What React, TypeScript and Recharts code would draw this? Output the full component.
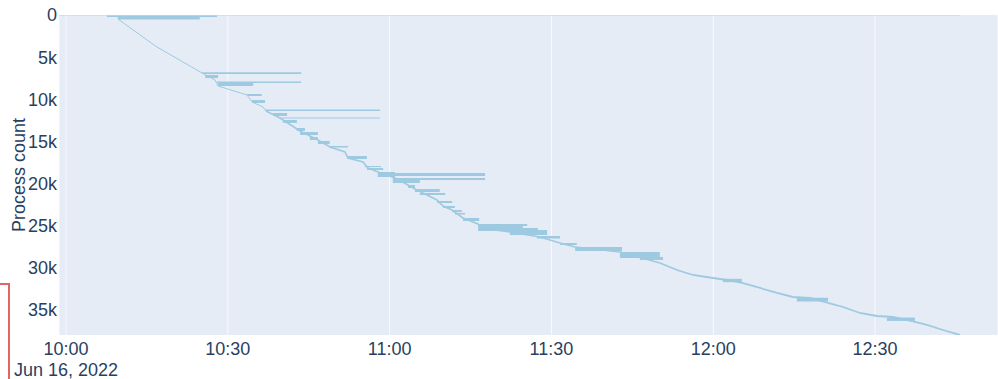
import React from 'react';
import { ComposedChart, Line, XAxis, YAxis, CartesianGrid, ReferenceArea } from 'recharts';

// Time axis: minutes after 10:00 on Jun 16, 2022
const xTicks = [0, 30, 60, 90, 120, 150];
const yTicks = [0, 5000, 10000, 15000, 20000, 25000, 30000, 35000];
const dateLabel = 'Jun 16, 2022';
const yTitle = 'Process count';

// Process bars (clusters of processes): start / end time (min after 10:00), row range (process count)
const barStartMin = [
  -1.3, 7.6, 9.6, 25.2, 25.8, 28.0, 28.2, 33.6, 34.5, 36.9, 39.7, 38.4, 40.2, 42.8, 43.4, 45.2,
  46.7, 48.9, 52.1, 55.4, 55.8, 57.8, 60.6, 60.6, 60.6, 63.4, 64.7, 65.6, 68.8, 69.9, 71.6, 72.1,
  73.6, 76.4, 76.4, 78.6, 82.3, 87.3, 91.6, 94.4, 102.7, 106.4, 121.8, 135.5, 152.2,
];
const barEndMin = [
  165.8, 28.0, 24.8, 43.6, 28.2, 43.6, 34.7, 36.3, 36.9, 58.2, 58.2, 41.0, 42.8, 44.3, 46.7, 46.7,
  48.9, 52.3, 55.8, 58.4, 58.8, 61.0, 77.7, 77.7, 65.6, 64.7, 69.3, 70.3, 71.6, 72.1, 73.4, 74.0,
  76.6, 84.7, 85.5, 87.5, 89.2, 91.6, 94.7, 103.1, 110.1, 110.7, 125.3, 141.3, 157.4,
];
const barFromCount = [
  0, 60, 120, 6800, 7120, 7890, 8010, 9370, 10090, 11210, 12160, 11630, 12460, 13410, 13880, 14480,
  14950, 15540, 16730, 17920, 18150, 18630, 18750, 19340, 19460, 20170, 20650, 21120, 22070, 22660, 23140, 23490,
  24090, 24920, 24800, 25270, 25510, 26220, 27050, 27530, 28120, 28710, 31300, 33560, 35900,
];
const barToCount = [
  80, 240, 530, 7000, 7480, 8070, 8420, 9610, 10440, 11390, 12280, 11980, 12810, 13760, 14240, 14830,
  15310, 15720, 17090, 18040, 18390, 19220, 19100, 19580, 19930, 20530, 21000, 21360, 22310, 22900, 23370, 23670,
  24440, 25630, 25040, 25570, 26100, 26520, 27290, 28000, 28830, 29070, 31700, 34000, 36300,
];

// Leading edge of process start times (staircase)
const edgeMin = [
  9.64, 15.02, 16.87, 25.22, 27.63, 28.18, 33.56, 34.49, 36.53, 37.08,
  39.68, 43.39, 46.72, 48.95, 51.73, 52.29, 55.07, 56.0, 57.85, 61.0, 63.41, 64.71, 68.79, 69.9, 71.57, 73.61, 76.39, 76.76,
  82.32, 87.88, 91.59, 94.37, 102.72, 110.13,
  113.29, 116.25, 119.96, 122.56, 125.34, 128.67, 131.83, 134.79, 137.94, 141.28, 144.06, 147.21, 150.36, 153.33, 157.41, 159.64, 162.6, 165.76,
];
const edgeCount = [
  475, 2966, 3797, 6882, 7712, 8424, 9492, 10323, 10916, 11390,
  12221, 13763, 14831, 15662, 16255, 16967, 17442, 18153, 18628, 19340, 20171, 20645, 21950, 22662, 23137, 24086, 24798, 25272,
  25747, 26340, 27052, 27527, 28120, 29425,
  30256, 30849, 31205, 31442, 31798, 32391, 32984, 33459, 33578, 34171, 34646, 35358, 35714, 35832, 36426, 36782, 37375, 37968,
];

const FONT = '"Liberation Sans", Arial, sans-serif';
const TEXT = '#2a3f5f';
const BAR = '#9ecae1';

const fmtTime = (m: number) => {
  const h = 10 + Math.floor(m / 60);
  const mm = Math.round(m % 60);
  return `${h}:${mm < 10 ? '0' + mm : mm}`;
};

const XTick = (props: any) => {
  const { x, y, payload } = props;
  return (
    <g>
      <text x={x} y={y + 20} textAnchor="middle" fill={TEXT} fontSize={18} fontFamily={FONT}>
        {fmtTime(payload.value)}
      </text>
      {payload.value === 0 && (
        <text x={x} y={y + 41} textAnchor="middle" fill={TEXT} fontSize={18} fontFamily={FONT}>
          {dateLabel}
        </text>
      )}
    </g>
  );
};

const YLabel = (props: any) => {
  const vb = props.viewBox || { x: 0, y: 15, width: 59, height: 320 };
  const cx = vb.x + 19;
  const cy = vb.y + vb.height / 2;
  return (
    <text x={cx} y={cy} transform={`rotate(-90, ${cx}, ${cy})`} textAnchor="middle" dominantBaseline="central"
      fill={TEXT} fontSize={18} fontFamily={FONT}>
      {yTitle}
    </text>
  );
};

export default function App() {
  const edgeData = edgeMin.map((t, i) => ({ t, c: edgeCount[i] }));
  const upper = edgeData.slice(0, 10);
  const middle = edgeData.slice(9, 34);
  const lower = edgeData.slice(33);
  return (
    <div style={{ position: 'absolute', left: 0, top: 0, width: 998, height: 379, background: '#fff' }}>
      <ComposedChart width={998} height={379} margin={{ top: 15, right: 0, bottom: 0, left: 0 }}>
        <CartesianGrid horizontal={false} stroke="#ffffff" strokeOpacity={0.75} strokeWidth={1} fill="#e5ecf6" fillOpacity={1} />
        <XAxis type="number" dataKey="t" domain={[-1.3, 172.8]} ticks={xTicks} allowDataOverflow interval={0}
          height={44} axisLine={false} tickLine={false} tickSize={0} tickMargin={0} tick={XTick} />
        <YAxis type="number" dataKey="c" domain={[0, 37970]} reversed ticks={yTicks} allowDataOverflow interval={0}
          width={59} axisLine={false} tickLine={false} tickSize={0} tickMargin={2}
          tickFormatter={(v: number) => (v === 0 ? '0' : `${v / 1000}k`)}
          tick={{ fill: TEXT, fontSize: 18, fontFamily: FONT }}
          label={<YLabel />} />
        {barStartMin.map((s, i) => (
          <ReferenceArea key={i} x1={s} x2={barEndMin[i]} y1={barFromCount[i]} y2={barToCount[i]}
            fill={BAR} fillOpacity={i === 0 ? 0.45 : 1} stroke="none" ifOverflow="hidden" />
        ))}
        <Line data={upper} dataKey="c" stroke={BAR} strokeWidth={1} dot={false} isAnimationActive={false} />
        <Line data={middle} dataKey="c" stroke={BAR} strokeWidth={1.6} dot={false} isAnimationActive={false} />
        <Line data={lower} dataKey="c" stroke={BAR} strokeWidth={1.8} dot={false} isAnimationActive={false} />
      </ComposedChart>
      <div style={{ position: 'absolute', left: 0, top: 283, width: 8, height: 96, borderTop: '2px solid #e06666', borderRight: '2px solid #e06666' }} />
    </div>
  );
}
